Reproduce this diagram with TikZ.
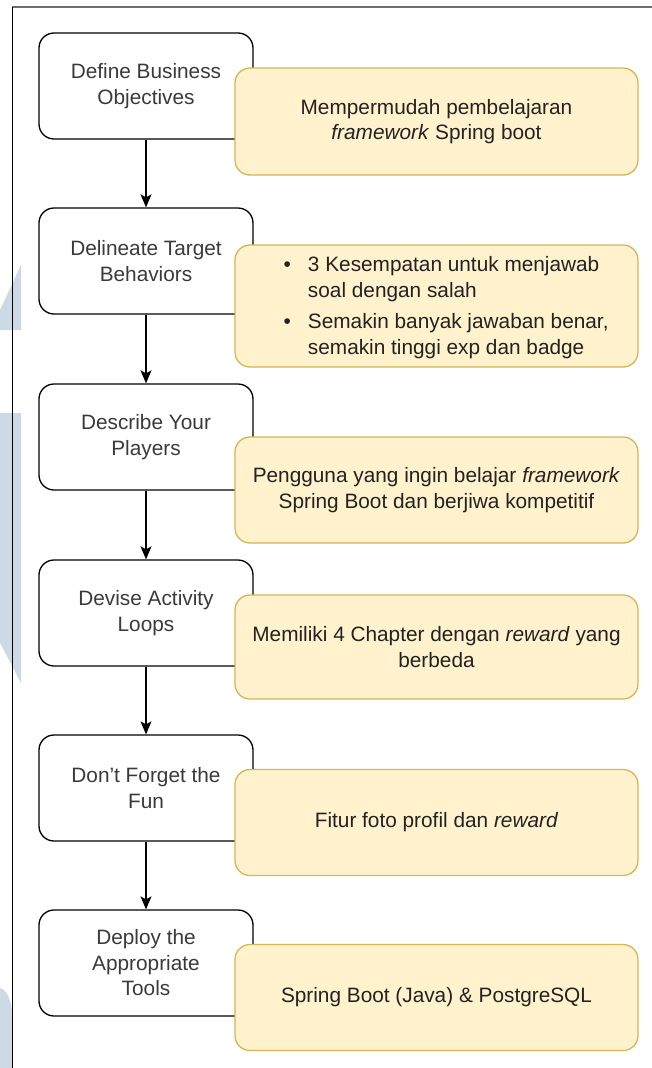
\documentclass[tikz,border=0pt]{standalone}
\usepackage{fontspec}
\setmainfont{Liberation Sans}
\usetikzlibrary{arrows.meta}
\definecolor{notefill}{HTML}{FFF2CC}
\definecolor{noteline}{HTML}{D6B656}
\definecolor{marklogo}{HTML}{CDD9E5}
\definecolor{framegray}{HTML}{6E6E6E}
\definecolor{stepink}{HTML}{3A3A3A}
\definecolor{noteink}{HTML}{222222}
\begin{document}
\begin{tikzpicture}[x=1pt,y=-1pt,
  txt/.style={font=\fontsize{20.8}{25.5}\selectfont},
  stepbox/.style={txt, draw=black, fill=white, line width=1.3pt, rounded corners=15pt,
    minimum width=214pt, minimum height=106pt, inner sep=0pt, align=center, text=stepink},
  notebox/.style={txt, draw=noteline, fill=notefill, line width=1.3pt, rounded corners=15pt,
    minimum width=403pt, minimum height=106pt, inner sep=0pt, align=center, text=noteink},
  flow/.style={draw=black, line width=1.3pt, -{Stealth[length=13pt,width=11pt,inset=3pt]}}
]
\useasboundingbox (0,0) rectangle (652,1068);
\fill[white] (0,0) rectangle (652,1068);

% faint logo shapes along the left edge
\fill[marklogo] (21,265) -- (21,330) -- (0,330) -- (0,310) -- cycle;
\fill[marklogo] (0,413) -- (21,413) -- (21,683) -- (0,643) -- cycle;
\fill[marklogo] (0,988) .. controls (6,990) and (11,998) .. (12,1012) -- (12,1068) -- (0,1068) -- cycle;

% frame
\draw[framegray, line width=2pt] (12,7) -- (652,7);
\draw[black, line width=0.9pt] (12,7) -- (12,1068);

% steps
\node[stepbox] (s1) at (146,86)  {Define Business\\Objectives};
\node[stepbox] (s2) at (146,261) {Delineate Target\\Behaviors};
\node[stepbox] (s3) at (146,437) {Describe Your\\Players};
\node[stepbox] (s4) at (146,613) {Devise Activity\\Loops};
\node[stepbox] (s5) at (146,788) {Don't Forget the\\Fun};
\node[stepbox] (s6) at (146,963) {Deploy the\\Appropriate\\Tools};

\draw[flow] (s1.south) -- (s2.north);
\draw[flow] (s2.south) -- (s3.north);
\draw[flow] (s3.south) -- (s4.north);
\draw[flow] (s4.south) -- (s5.north);
\draw[flow] (s5.south) -- (s6.north);

% notes
\node[notebox, minimum height=107pt] (n1) at (436.5,121.5)
  {Mempermudah pembelajaran\\\textit{framework} Spring boot};
\node[notebox, minimum height=122pt] (n2) at (436.5,306) {};
\node[txt, text=noteink, anchor=west, inner sep=0pt] (n2list) at (283.5,308)
  {\begin{tabular}{@{}l@{\hspace{17pt}}l@{}}
    \textbullet & 3 Kesempatan untuk menjawab\\
                & soal dengan salah\\[6pt]
    \textbullet & Semakin banyak jawaban benar,\\
                & semakin tinggi exp dan badge
   \end{tabular}};
\node[notebox] (n3) at (436.5,490)
  {Pengguna yang ingin belajar \textit{framework}\\Spring Boot dan berjiwa kompetitif};
\node[notebox, minimum height=104pt] (n4) at (436.5,647)
  {Memiliki 4 Chapter dengan \textit{reward} yang\\berbeda};
\node[notebox] (n5) at (436.5,822.5) {Fitur foto profil dan \textit{reward}};
\node[notebox] (n6) at (436.5,997.5) {Spring Boot (Java) \& PostgreSQL};
\end{tikzpicture}
\end{document}
